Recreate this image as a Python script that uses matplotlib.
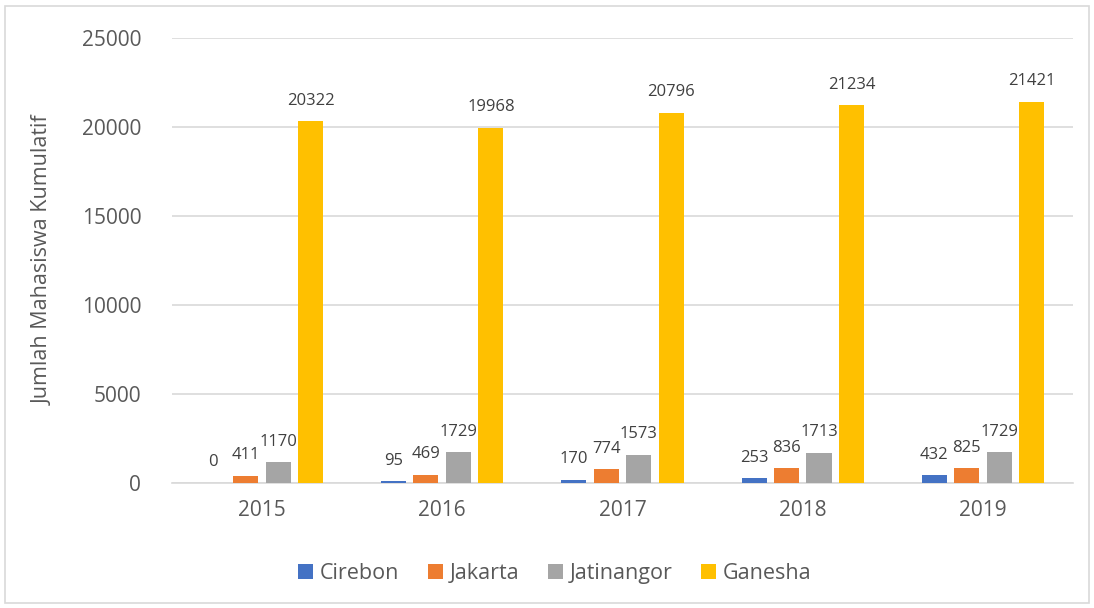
import matplotlib
matplotlib.use("Agg")
import matplotlib.pyplot as plt
import numpy as np
from matplotlib.patches import Rectangle

years = ["2015", "2016", "2017", "2018", "2019"]
series_names = ["Cirebon", "Jakarta", "Jatinangor", "Ganesha"]
cirebon = [0, 95, 170, 253, 432]
jakarta = [411, 469, 774, 836, 825]
jatinangor = [1170, 1729, 1573, 1713, 1729]
ganesha = [20322, 19968, 20796, 21234, 21421]
colors = ["#4472C4", "#ED7D31", "#A5A5A5", "#FFC000"]
y_ticks = [0, 5000, 10000, 15000, 20000, 25000]

plt.rcParams['font.family'] = ['Open Sans', 'DejaVu Sans']
text_color = "#595959"

fig = plt.figure(figsize=(10.94, 6.08), dpi=100)
ax = fig.add_axes([0.157, 0.2056, 0.824, 0.7319])

x = np.arange(len(years))
width = 0.139
pitch = 0.18
data = [cirebon, jakarta, jatinangor, ganesha]
for i, (name, vals, c) in enumerate(zip(series_names, data, colors)):
    pos = x + (i - 1.5) * pitch
    bars = ax.bar(pos, vals, width=width, color=c, label=name, zorder=3)
    for b, v in zip(bars, vals):
        ax.annotate(str(v), (b.get_x() + b.get_width() / 2, v),
                    xytext=(0, 9), textcoords="offset points",
                    ha="center", va="bottom", fontsize=12, color="#404040")

ax.set_xlim(-0.5, len(years) - 0.5)
ax.set_ylim(0, 25000)
ax.set_yticks(y_ticks)
ax.set_yticklabels([str(t) for t in y_ticks])
ax.set_xticks(x)
ax.set_xticklabels(years)
ax.tick_params(axis="both", length=0, labelsize=15, colors=text_color)
ax.tick_params(axis="y", pad=22)
ax.tick_params(axis="x", pad=12)
ax.yaxis.grid(True, color="#D9D9D9", linewidth=1.2, zorder=0)
for s in ["top", "right", "left"]:
    ax.spines[s].set_visible(False)
ax.spines["bottom"].set_color("#D9D9D9")
ax.spines["bottom"].set_linewidth(1.2)
ax.set_ylabel("Jumlah Mahasiswa Kumulatif", fontsize=15.5, color=text_color, labelpad=20)

leg = fig.legend(loc="center", bbox_to_anchor=(0.507, 0.056), ncol=4, frameon=False,
                 fontsize=15.5, handlelength=0.7, handleheight=0.7,
                 handletextpad=0.3, columnspacing=1.35, labelcolor=text_color)

fig.patches.append(Rectangle((0.005, 0.008), 0.99, 0.982, transform=fig.transFigure,
                             fill=False, edgecolor="#D9D9D9", linewidth=1.2))

fig.savefig("out.png", dpi=100)
